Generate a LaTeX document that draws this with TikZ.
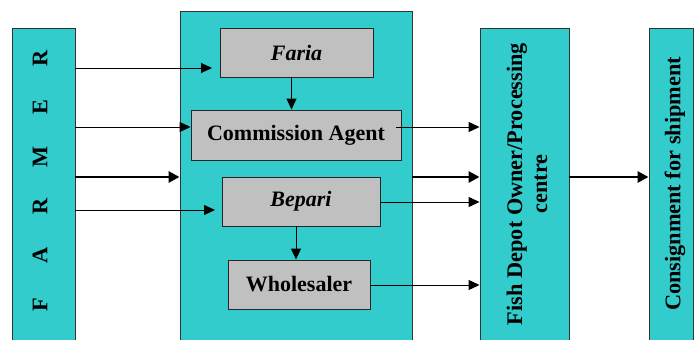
\documentclass[tikz,border=0pt]{standalone}
\usepackage{fontspec}
\setmainfont{Liberation Serif}
\usetikzlibrary{arrows.meta}
\definecolor{teal1}{HTML}{33CCCC}
\definecolor{gray1}{HTML}{C0C0C0}
\begin{document}
\begin{tikzpicture}[x=1pt,y=-1pt,
  col/.style={draw=black!80,line width=0.9pt,fill=teal1,inner sep=0pt},
  inbox/.style={draw=black!85,line width=0.9pt,fill=gray1,inner sep=0pt,font=\fontsize{22}{24}\selectfont\bfseries},
  thin/.style={line width=1pt,-{Triangle[length=11pt,width=10pt]}},
  thick/.style={line width=2.8pt,-{Triangle[length=11pt,width=11pt]}},
  lbl/.style={font=\fontsize{22.3}{25}\selectfont\bfseries,rotate=90,align=center,inner sep=0pt}
]
\useasboundingbox (0,0) rectangle (694,340);
\clip (0,0) rectangle (694,340);
\node[col,minimum width=63pt,minimum height=322pt] (farmer) at (43.5,189) {};
\node[col,minimum width=232pt,minimum height=339pt] (mid) at (296,180.5) {};
\node[col,minimum width=89pt,minimum height=322pt] (fish) at (524.5,189) {};
\node[col,minimum width=44pt,minimum height=322pt] (cons) at (671,189) {};

\node[lbl] (farmertxt) at (40,181.5) {\makebox[49.4pt]{F}\makebox[49.4pt]{A}\makebox[49.4pt]{R}\makebox[49.4pt]{M}\makebox[49.4pt]{E}\makebox[49.4pt]{R}};
\node[lbl] (fishtxt) at (527,184) {Fish Depot Owner/Processing\\centre};
\node[lbl] (constxt) at (675,184) {Consignment for shipment};

\node[inbox,minimum width=153pt,minimum height=49pt] (faria) at (296.5,52.5) {\itshape Faria};
\node[inbox,minimum width=210pt,minimum height=50pt] (ca) at (296,135) {Commission Agent};
\node[inbox,minimum width=158pt,minimum height=49pt] (bepari) at (301,201.5) {\itshape Bepari};
\node[inbox,minimum width=142pt,minimum height=49pt] (whole) at (299,284.5) {Wholesaler};

\coordinate (fariain) at (212,68);
\coordinate (bepariin) at (215,210);
\draw[thin] (farmer.east |- fariain) -- (fariain);
\draw[thin] (farmer.east |- 0,127) -- (ca.west |- 0,127);
\draw[thick] (farmer.east |- 0,177) -- (mid.west |- 0,177);
\draw[thin] (farmer.east |- bepariin) -- (bepariin);
\draw[thin] ([xshift=-5pt]faria.south) -- ([xshift=-5pt]faria.south |- ca.north);
\draw[thin] ([xshift=-5pt]bepari.south) -- ([xshift=-5pt]bepari.south |- whole.north);
\draw[thin] ([xshift=-5pt]ca.east |- 0,127) -- (fish.west |- 0,127);
\draw[thick] (mid.east |- 0,177) -- (fish.west |- 0,177);
\draw[thin] (bepari.east |- 0,202) -- (fish.west |- 0,202);
\draw[thin] (whole.east |- 0,285) -- (fish.west |- 0,285);
\draw[thick] (fish.east |- 0,177) -- (cons.west |- 0,177);
\end{tikzpicture}
\end{document}
